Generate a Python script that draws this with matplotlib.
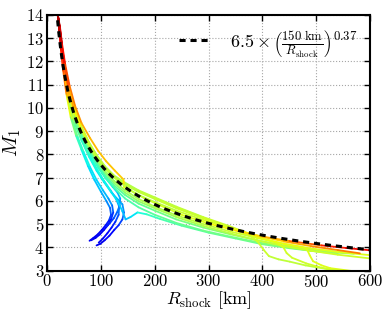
import numpy as np
import matplotlib
matplotlib.use("Agg")
import matplotlib.pyplot as plt
from matplotlib.collections import LineCollection
from matplotlib.lines import Line2D

plt.rcParams['font.family'] = 'serif'
plt.rcParams['font.serif'] = ['cmr10']
plt.rcParams['mathtext.fontset'] = 'cm'
plt.rcParams['axes.formatter.use_mathtext'] = True

# shock trajectories: radius [km], Mach number, colour value (0..1, jet)
traj_r = [
    [20, 23, 26, 30, 36, 44, 54, 64, 76, 88, 100, 110, 117, 119, 115, 109, 102, 94, 86, 79],
    [20, 23, 26, 31, 38, 47, 57, 68, 80, 92, 104, 114, 121, 123, 119, 113, 106, 98, 90, 82],
    [20, 24, 28, 34, 42, 52, 64, 78, 92, 106, 120, 132, 140, 143, 140, 133, 125, 116, 107, 99, 92],
    [20, 24, 28, 34, 42, 52, 64, 78, 92, 106, 118, 128, 134, 133, 127, 120, 112, 104, 96],
    [20, 24, 29, 36, 45, 56, 68, 82, 96, 110, 122, 131, 136, 135, 130, 124, 117, 110],
    [20, 24, 28, 34, 42, 52, 64, 78, 92, 106, 120, 132, 140, 146, 155, 168, 185, 210, 250, 300, 350, 400, 450, 500, 540],
    [20, 24, 28, 34, 42, 52, 64, 78, 92, 108, 125, 145, 170, 200, 240, 290, 340, 390, 440, 490, 530, 570],
    [20, 24, 28, 34, 42, 52, 64, 78, 92, 108, 125, 145, 170, 200, 240, 290, 340, 390, 440, 490, 530, 565],
    [20, 24, 28, 34, 42, 52, 64, 78, 92, 108, 125, 145, 170, 200, 240, 290, 340, 390, 440, 490, 540, 600],
    [20, 24, 28, 34, 42, 52, 64, 78, 92, 108, 125, 145, 170, 200, 240, 290, 340, 390, 440, 490, 540, 600],
    [20, 24, 28, 34, 42, 52, 64, 78, 92, 108, 125, 145, 170, 200, 240, 290, 340, 380, 392, 402, 412, 430, 451, 480, 526, 560],
    [20, 24, 28, 34, 42, 52, 64, 78, 92, 108, 125, 145, 170, 200, 240, 290, 340, 390, 425, 439, 445, 455, 482, 510, 540],
    [20, 24, 28, 34, 42, 52, 64, 78, 92, 108, 125, 145, 170, 200, 240, 290, 340, 390, 440, 470, 482, 488, 494, 510, 526, 569, 590],
    [20, 24, 28, 34, 42, 52, 64, 80, 95, 110, 126, 142, 143, 150, 170, 200, 240, 290, 340, 390, 440, 490, 540, 581],
    [20, 23, 27, 32, 40, 50, 62, 76, 92, 110, 130, 155, 180, 210, 250, 300, 350, 400, 450, 510, 555, 600],
]
traj_m = [
    [14.0, 13.3, 12.5, 11.6, 10.6, 9.6, 8.8, 8.2, 7.5, 6.9, 6.4, 6.0, 5.7, 5.4, 5.15, 4.95, 4.75, 4.55, 4.4, 4.28],
    [14.0, 13.4, 12.6, 11.6, 10.5, 9.5, 8.75, 8.1, 7.45, 6.9, 6.45, 6.1, 5.8, 5.5, 5.2, 4.95, 4.75, 4.55, 4.4, 4.3],
    [14.0, 13.2, 12.3, 11.2, 10.2, 9.3, 8.6, 7.9, 7.3, 6.8, 6.35, 6.05, 5.85, 5.5, 5.2, 4.95, 4.75, 4.5, 4.3, 4.15, 4.08],
    [14.0, 13.3, 12.4, 11.3, 10.3, 9.4, 8.65, 7.95, 7.35, 6.85, 6.45, 6.1, 5.75, 5.4, 5.1, 4.85, 4.6, 4.38, 4.2],
    [14.0, 13.3, 12.3, 11.2, 10.2, 9.3, 8.6, 7.95, 7.4, 6.95, 6.6, 6.35, 6.1, 5.8, 5.5, 5.25, 5.05, 4.9],
    [14.0, 13.25, 12.35, 11.35, 10.35, 9.45, 8.7, 8.0, 7.4, 6.85, 6.35, 5.95, 5.55, 5.2, 5.3, 5.5, 5.42, 5.22, 4.93, 4.63, 4.38, 4.13, 3.96, 3.82, 3.72],
    [14.0, 13.25, 12.4, 11.45, 10.45, 9.55, 8.8, 8.15, 7.55, 7.0, 6.55, 6.1, 5.72, 5.4, 5.05, 4.72, 4.46, 4.22, 4.02, 3.86, 3.78, 3.72],
    [14.0, 13.3, 12.45, 11.5, 10.55, 9.65, 8.9, 8.25, 7.65, 7.1, 6.65, 6.25, 5.88, 5.58, 5.2, 4.85, 4.56, 4.3, 4.08, 3.92, 3.82, 3.76],
    [14.0, 13.3, 12.5, 11.55, 10.6, 9.75, 9.0, 8.3, 7.75, 7.2, 6.75, 6.35, 5.98, 5.68, 5.3, 4.92, 4.6, 4.3, 4.05, 3.85, 3.68, 3.52],
    [14.0, 13.35, 12.55, 11.6, 10.65, 9.8, 9.05, 8.38, 7.82, 7.28, 6.85, 6.45, 6.08, 5.75, 5.38, 5.0, 4.68, 4.4, 4.15, 3.95, 3.8, 3.66],
    [14.0, 13.4, 12.6, 11.7, 10.75, 9.9, 9.15, 8.5, 7.95, 7.45, 7.05, 6.75, 6.42, 6.12, 5.72, 5.28, 4.85, 4.45, 4.22, 3.9, 3.62, 3.48, 3.38, 3.22, 3.04, 2.95],
    [14.0, 13.4, 12.6, 11.7, 10.8, 9.95, 9.2, 8.52, 7.98, 7.48, 7.08, 6.78, 6.45, 6.15, 5.75, 5.3, 4.9, 4.45, 4.2, 4.0, 3.75, 3.55, 3.3, 3.12, 2.98],
    [14.0, 13.35, 12.55, 11.65, 10.7, 9.85, 9.1, 8.45, 7.9, 7.4, 7.0, 6.7, 6.38, 6.08, 5.68, 5.25, 4.85, 4.42, 4.15, 4.02, 3.95, 3.65, 3.4, 3.22, 3.1, 2.97, 2.9],
    [14.0, 13.5, 12.75, 11.85, 10.95, 10.1, 9.35, 8.7, 8.15, 7.7, 7.3, 6.92, 6.6, 6.5, 6.25, 5.95, 5.58, 5.18, 4.83, 4.5, 4.25, 4.05, 3.88, 3.74],
    [14.0, 13.5, 12.75, 11.9, 10.85, 9.95, 9.2, 8.5, 7.85, 7.35, 6.9, 6.45, 6.12, 5.8, 5.4, 5.02, 4.72, 4.46, 4.27, 4.08, 3.97, 3.87],
]
traj_c = [
    [0.95, 0.93, 0.9, 0.85, 0.72, 0.55, 0.45, 0.38, 0.35, 0.33, 0.31, 0.28, 0.24, 0.2, 0.16, 0.13, 0.11, 0.1, 0.1, 0.1],
    [0.95, 0.93, 0.9, 0.84, 0.7, 0.52, 0.44, 0.38, 0.36, 0.34, 0.32, 0.29, 0.25, 0.2, 0.15, 0.12, 0.1, 0.1, 0.1, 0.1],
    [0.95, 0.92, 0.88, 0.8, 0.62, 0.48, 0.42, 0.38, 0.36, 0.35, 0.33, 0.31, 0.29, 0.25, 0.21, 0.17, 0.14, 0.12, 0.1, 0.1, 0.1],
    [0.95, 0.92, 0.88, 0.8, 0.64, 0.5, 0.43, 0.39, 0.37, 0.35, 0.33, 0.3, 0.26, 0.22, 0.18, 0.14, 0.12, 0.1, 0.1],
    [0.95, 0.92, 0.87, 0.78, 0.6, 0.48, 0.43, 0.4, 0.38, 0.36, 0.34, 0.32, 0.29, 0.26, 0.23, 0.2, 0.17, 0.15],
    [0.95, 0.92, 0.88, 0.8, 0.64, 0.5, 0.44, 0.4, 0.38, 0.37, 0.36, 0.34, 0.32, 0.3, 0.33, 0.37, 0.4, 0.43, 0.45, 0.46, 0.47, 0.48, 0.5, 0.5, 0.5],
    [0.95, 0.92, 0.88, 0.8, 0.66, 0.52, 0.46, 0.43, 0.42, 0.42, 0.43, 0.44, 0.45, 0.46, 0.47, 0.48, 0.49, 0.5, 0.51, 0.52, 0.52, 0.52],
    [0.95, 0.92, 0.88, 0.82, 0.68, 0.55, 0.48, 0.45, 0.44, 0.44, 0.45, 0.46, 0.47, 0.48, 0.49, 0.5, 0.52, 0.54, 0.55, 0.55, 0.55, 0.55],
    [0.95, 0.92, 0.88, 0.82, 0.7, 0.58, 0.52, 0.5, 0.5, 0.5, 0.51, 0.52, 0.53, 0.54, 0.55, 0.56, 0.57, 0.58, 0.59, 0.6, 0.6, 0.6],
    [0.95, 0.92, 0.88, 0.83, 0.72, 0.6, 0.55, 0.53, 0.53, 0.53, 0.54, 0.55, 0.56, 0.56, 0.57, 0.58, 0.59, 0.6, 0.61, 0.62, 0.62, 0.62],
    [0.95, 0.93, 0.9, 0.85, 0.74, 0.63, 0.58, 0.56, 0.56, 0.56, 0.56, 0.57, 0.57, 0.57, 0.58, 0.58, 0.59, 0.6, 0.6, 0.6, 0.59, 0.58, 0.58, 0.58, 0.58, 0.58],
    [0.95, 0.93, 0.9, 0.85, 0.75, 0.64, 0.59, 0.57, 0.57, 0.57, 0.57, 0.57, 0.57, 0.58, 0.58, 0.59, 0.6, 0.61, 0.61, 0.61, 0.6, 0.6, 0.6, 0.6, 0.6],
    [0.95, 0.93, 0.9, 0.85, 0.75, 0.64, 0.6, 0.58, 0.58, 0.58, 0.58, 0.58, 0.58, 0.59, 0.59, 0.6, 0.61, 0.62, 0.63, 0.63, 0.62, 0.62, 0.62, 0.62, 0.62, 0.62, 0.62],
    [0.95, 0.93, 0.9, 0.86, 0.8, 0.76, 0.74, 0.72, 0.71, 0.7, 0.7, 0.69, 0.66, 0.6, 0.57, 0.57, 0.58, 0.6, 0.62, 0.66, 0.7, 0.75, 0.78, 0.78],
    [0.97, 0.95, 0.92, 0.88, 0.78, 0.68, 0.62, 0.6, 0.58, 0.58, 0.58, 0.58, 0.59, 0.6, 0.61, 0.63, 0.66, 0.7, 0.76, 0.86, 0.9, 0.9],
]

# fit: M = 6.5 (150 km / R)^0.37
fit_amp = 6.5
fit_r0 = 150.0
fit_exp = 0.37

fig = plt.figure(figsize=(3.9, 3.12), dpi=100)
ax = fig.add_axes([0.1205, 0.133, 0.8285, 0.819])

for r, m, c in zip(traj_r, traj_m, traj_c):
    pts = np.column_stack([r, m])
    segs = np.stack([pts[:-1], pts[1:]], axis=1)
    c = np.asarray(c)
    lc = LineCollection(segs, cmap='jet', norm=plt.Normalize(0, 1), linewidths=1.3,
                        capstyle='round', joinstyle='round')
    lc.set_array(0.5 * (c[:-1] + c[1:]))
    ax.add_collection(lc)

r_fit = np.linspace(18, 600, 300)
ax.plot(r_fit, fit_amp * (fit_r0 / r_fit) ** fit_exp, color='k', lw=2.2,
        dashes=(2, 1.6), zorder=5)

ax.set_xlim(0, 600)
ax.set_ylim(3, 14)
ax.set_xticks(range(0, 601, 100))
ax.set_yticks(range(3, 15))
ax.grid(True, color='0.65', linestyle=':', linewidth=0.8)
ax.set_axisbelow(True)
ax.tick_params(direction='in', top=True, right=True, length=4, width=1, labelsize=12, pad=2)
for s in ax.spines.values():
    s.set_linewidth(1.5)

ax.set_xlabel(r'$R_{\rm shock}$ [km]', fontsize=13, labelpad=-1)
ax.set_ylabel(r'$M_1$', fontsize=15, labelpad=2)

handle = Line2D([], [], color='k', lw=2.2, dashes=(2, 1.6))
ax.legend([handle], [r'$6.5\times\left(\frac{150\ {\rm km}}{R_{\rm shock}}\right)^{0.37}$'],
          loc='upper right', frameon=False, fontsize=13, handlelength=1.6,
          handletextpad=1.2, borderaxespad=0.3)

fig.savefig('out.png', dpi=100)
